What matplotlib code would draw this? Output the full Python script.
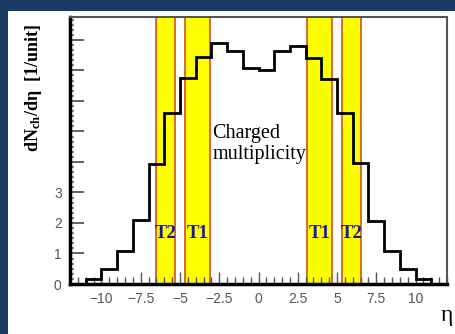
import numpy as np
import matplotlib
matplotlib.use('Agg')
import matplotlib.pyplot as plt
from matplotlib.patches import Rectangle
from matplotlib.ticker import MultipleLocator, AutoMinorLocator, FuncFormatter

# bin edges in eta and the charged multiplicity per bin
eta_edges = np.arange(-12, 13)
dn_deta = [0.0, 0.16, 0.5, 1.08, 2.1, 3.93, 5.6, 6.75, 7.45, 7.9, 7.62, 7.07,
           7.0, 7.64, 7.8, 7.42, 6.71, 5.6, 3.97, 2.07, 1.08, 0.49, 0.16, 0.0]

# detector coverage in |eta|
detectors = ['T1', 'T2']
eta_min = [3.1, 5.3]
eta_max = [4.7, 6.5]

x_ticks = [-10, -7.5, -5, -2.5, 0, 2.5, 5, 7.5, 10]
y_labelled = [0, 1, 2, 3]

plt.rcParams['mathtext.fontset'] = 'custom'
plt.rcParams['mathtext.rm'] = 'Liberation Serif:bold'
plt.rcParams['mathtext.it'] = 'Liberation Serif:bold'
plt.rcParams['mathtext.bf'] = 'Liberation Serif:bold'

fig = plt.figure(figsize=(4.56, 3.34), dpi=100, facecolor='#1c3b64')
# white panel behind the plot
fig.add_artist(Rectangle((8 / 456, 0), 1, 1 - 11 / 334, transform=fig.transFigure,
                         facecolor='white', edgecolor='none', zorder=0))

ax = fig.add_axes([70 / 456, 1 - 284 / 334, 377 / 456, 267 / 334])
ax.set_facecolor('white')

# yellow bands for T1 and T2 on both sides
for name, lo, hi in zip(detectors, eta_min, eta_max):
    for sign in (-1, 1):
        a, b = sorted((sign * lo, sign * hi))
        ax.axvspan(a, b, facecolor='#ffff00', edgecolor='#d2501e', lw=1.2, zorder=1)
        ax.text((a + b) / 2, 1.67, name, ha='center', va='center', fontsize=13.5,
                fontweight='bold', family='Liberation Serif', color='#1a1a96', zorder=4)

ax.stairs(dn_deta, eta_edges, color='black', lw=2.0, zorder=3)

ax.text(-2.95, 4.6, 'Charged\nmultiplicity', ha='left', va='center', fontsize=14.5,
        family='Liberation Serif', color='black', linespacing=1.15, zorder=4)

ax.set_xlim(-12, 12)
ax.set_ylim(0, 8.75)


def eta_label(t):
    s = f'{abs(t):g}'
    return '\u2212' + s if t < 0 else s


ax.set_xticks(x_ticks)
ax.set_xticklabels([eta_label(t) for t in x_ticks])
ax.xaxis.set_minor_locator(MultipleLocator(0.5))
ax.yaxis.set_major_locator(MultipleLocator(1))
ax.yaxis.set_minor_locator(AutoMinorLocator(6))
ax.yaxis.set_major_formatter(FuncFormatter(lambda v, p: str(int(round(v))) if int(round(v)) in y_labelled else ''))

ax.tick_params(axis='both', which='both', direction='in', colors='#555555',
               labelsize=10, labelcolor='#555555')
ax.tick_params(axis='x', which='major', length=9, width=1, pad=6)
ax.tick_params(axis='x', which='minor', length=5, width=1)
ax.tick_params(axis='y', which='major', length=10, width=1.3, pad=6)
ax.tick_params(axis='y', which='minor', length=3, width=1.3, colors='#777777')
for lab in ax.get_xticklabels() + ax.get_yticklabels():
    lab.set_family('Liberation Sans')

ax.spines['left'].set_linewidth(2.5)
ax.spines['bottom'].set_linewidth(2.5)
ax.spines['left'].set_color('black')
ax.spines['bottom'].set_color('black')
ax.spines['top'].set_linewidth(1.5)
ax.spines['right'].set_linewidth(1.5)
ax.spines['top'].set_color('#555555')
ax.spines['right'].set_color('#555555')

fig.text(33 / 456, 1 - 88 / 334, r'dN$_{\rm ch}$/d' + '\u03b7  [1/unit]', rotation=90,
         ha='center', va='center', fontsize=13, fontweight='bold',
         family='Liberation Serif', color='black')
fig.text(447 / 456, 1 - 316 / 334, '\u03b7', ha='center', va='center', fontsize=17,
         family='Liberation Serif', color='black')

fig.savefig('out.png', dpi=100, facecolor=fig.get_facecolor())
